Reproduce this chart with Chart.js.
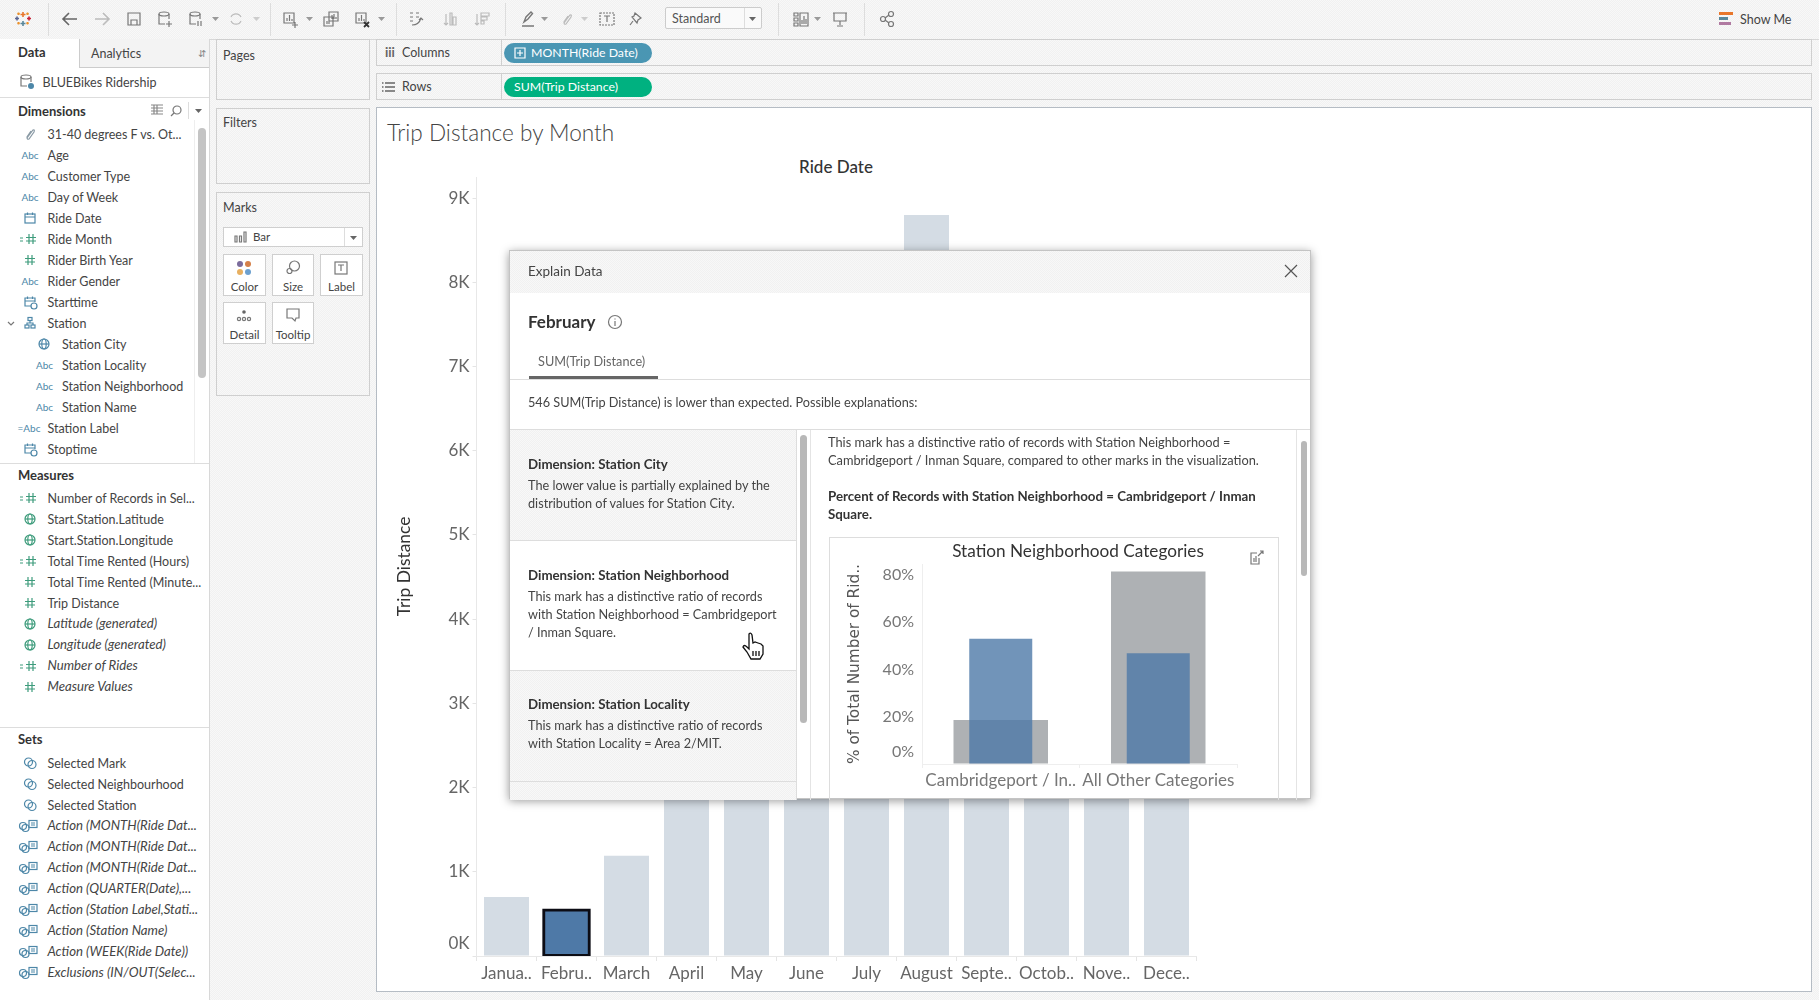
<!DOCTYPE html>
<html>
<head>
<meta charset="utf-8">
<title>Trip Distance by Month</title>
<script src="https://cdn.jsdelivr.net/npm/chart.js@4/dist/chart.umd.min.js"></script>
<style>
html, body { margin: 0; padding: 0; }
body { width: 1819px; height: 1000px; position: relative; overflow: hidden; font-family: Lato, sans-serif; color: #333;
  background: repeating-conic-gradient(#f1f1f1 0 25%, #f8f8f8 0 50%) 0 0 / 2px 2px; }
.box { position: absolute; box-sizing: border-box; }
.panel { background: #fff; border: 1px solid #cfcfcf; }
.light { background: repeating-conic-gradient(#f1f1f1 0 25%, #f8f8f8 0 50%) 0 0 / 2px 2px; }
.t { position: absolute; white-space: nowrap; transform: translateY(-50%); line-height: 1.2; font-size: 12.5px; color: #444; }
.b { font-weight: 700; color: #333; font-size: 13px; }
.i { font-style: italic; font-size: 13.2px; }
.c { transform: translate(-50%, -50%); }
.pill { position: absolute; left: 504px; width: 148px; height: 20px; border-radius: 10px; color: #fff; font-size: 12.3px; line-height: 20px; box-sizing: border-box; }
svg { position: absolute; overflow: visible; fill: none; stroke: #777; stroke-width: 1.2; }
canvas { position: absolute; }
</style>
</head>
<body>
<div id="chrome"></div>

<!-- main view -->
<div class="box panel" style="left:376px;top:107px;width:1436px;height:885px;border-color:#b5bcc4"></div>
<div class="t" style="left:387px;top:133px;font-size:22.6px;font-weight:300;color:#444">Trip Distance by Month</div>
<div class="t c b" style="left:836px;top:167px;font-size:17px;font-weight:500">Ride Date</div>
<canvas id="monthChart" width="830" height="840" style="left:380px;top:150px"></canvas>

<!-- explain data dialog -->
<div class="box" id="dialog" style="left:509px;top:250px;width:802px;height:549px;background:#fff;border:1px solid #c4c4c4;box-shadow:0 2px 9px rgba(0,0,0,.4)">
  <div class="box light" style="left:0;top:0;width:800px;height:42px"></div>
  <div class="box light" style="left:0;top:179px;width:286px;height:111px;border-bottom:1px solid #ddd"></div>
  <div class="box light" style="left:0;top:419px;width:286px;height:112px;border-top:1px solid #ddd;border-bottom:1px solid #ddd"></div>
  <div class="box light" style="left:0;top:531px;width:286px;height:18px"></div>
  <div class="box" style="left:19px;top:125px;width:129px;height:3px;background:#666"></div>
  <div class="box" style="left:0;top:128px;width:800px;height:1px;background:#ddd"></div>
  <div class="box" style="left:0;top:178px;width:800px;height:1px;background:#ddd"></div>
  <div class="box" style="left:286px;top:179px;width:1px;height:370px;background:#ddd"></div>
  <div class="box" style="left:300px;top:179px;width:1px;height:370px;background:#e4e4e4"></div>
  <div class="box" style="left:786px;top:179px;width:1px;height:370px;background:#e4e4e4"></div>
  <div class="box" style="left:290px;top:184px;width:7px;height:288px;background:#b8b8b8;border-radius:4px"></div>
  <div class="box" style="left:791px;top:190px;width:6px;height:135px;background:#b8b8b8;border-radius:3px"></div>
  <div class="box" style="left:319px;top:286px;width:450px;height:263px;border:1px solid #ddd;border-bottom:0;overflow:hidden">
    <canvas id="neighborhoodChart" width="450" height="263" style="left:-1px;top:-1px"></canvas>
    <div class="t c" style="left:248px;top:13px;font-size:17.2px;color:#333">Station Neighborhood Categories</div>
  </div>
</div>
<div id="dialogText"></div>

<script>
// main chart
const months = ['Janua..', 'Febru..', 'March', 'April', 'May', 'June', 'July', 'August', 'Septe..', 'Octob..', 'Nove..', 'Dece..'];
const tripDistance = [700, 546, 1190, 2900, 4700, 6300, 7800, 8800, 8200, 6500, 4200, 2400]; // Apr-Jul, Sep-Dec sit behind the dialog, estimated
const distanceTicks = [0, 1000, 2000, 3000, 4000, 5000, 6000, 7000, 8000, 9000];
const selectedMonth = 'Febru..';

// small chart inside the dialog
const neighborhoods = ['Cambridgeport / In..', 'All Other Categories'];
const markShare = [53, 46.8];
const overallShare = [18.6, 81.4];
const shareTicks = [0, 20, 40, 60, 80];

// side panel fields: name, icon, nested, italic
const dimensions = [['31-40 degrees F vs. Ot...', 'clip'], ['Age', 'abc'], ['Customer Type', 'abc'], ['Day of Week', 'abc'], ['Ride Date', 'date'], ['Ride Month', 'calc'], ['Rider Birth Year', 'hash'], ['Rider Gender', 'abc'], ['Starttime', 'time'], ['Station', 'tree'], ['Station City', 'globeb', 1], ['Station Locality', 'abc', 1], ['Station Neighborhood', 'abc', 1], ['Station Name', 'abc', 1], ['Station Label', 'calcabc'], ['Stoptime', 'time']];
const measures = [['Number of Records in Sel...', 'calc'], ['Start.Station.Latitude', 'globe'], ['Start.Station.Longitude', 'globe'], ['Total Time Rented (Hours)', 'calc'], ['Total Time Rented (Minute...', 'hash'], ['Trip Distance', 'hash'], ['Latitude (generated)', 'globe', 0, 1], ['Longitude (generated)', 'globe', 0, 1], ['Number of Rides', 'calc', 0, 1], ['Measure Values', 'hash', 0, 1]];
const sets = [['Selected Mark', 'set'], ['Selected Neighbourhood', 'set'], ['Selected Station', 'set'], ['Action (MONTH(Ride Dat...', 'action', 0, 1], ['Action (MONTH(Ride Dat...', 'action', 0, 1], ['Action (MONTH(Ride Dat...', 'action', 0, 1], ['Action (QUARTER(Date),...', 'action', 0, 1], ['Action (Station Label,Stati...', 'action', 0, 1], ['Action (Station Name)', 'action', 0, 1], ['Action (WEEK(Ride Date))', 'action', 0, 1], ['Exclusions (IN/OUT(Selec...', 'action', 0, 1]];

const chrome = document.getElementById('chrome');
let html = '';
const text = (x, y, s, cls = '', style = '') => `<div class="t ${cls}" style="left:${x}px;top:${y}px;${style}">${s}</div>`;
const rect = (x, y, w, h, style) => `<div class="box" style="left:${x}px;top:${y}px;width:${w}px;height:${h}px;${style}"></div>`;
const svg = (x, y, inner, style = '') => `<svg width="16" height="16" viewBox="0 0 16 16" style="left:${x - 8}px;top:${y - 8}px;${style}">${inner}</svg>`;
const arrowDown = (x, y, col = '#999') => `<svg width="8" height="5" style="left:${x - 4}px;top:${y - 2}px;stroke:none"><path d="M0 0H7L3.5 4Z" fill="${col}"/></svg>`;

const fieldIcons = {
    abc: (x, y) => text(x - 8, y, 'Abc', '', 'font-size:10px;color:#4d87a8'),
    hash: (x, y) => svg(x, y, '<path d="M6 3V13M10 3V13M3 6.5H13M3 10H13"/>', 'stroke:#3e9c7c'),
    calc: (x, y) => svg(x, y, '<path d="M7 3V13M11 3V13M4 6.5H14M4 10H14M-2 7H1M-2 10H1"/>', 'stroke:#3e9c7c'),
    calcabc: (x, y) => text(x - 12, y, '=Abc', '', 'font-size:10px;color:#4d87a8'),
    date: (x, y) => svg(x, y, '<rect x="3" y="4" width="10" height="9"/><path d="M3 7H13M5.5 2.5V5M10.5 2.5V5"/>', 'stroke:#4d87a8'),
    time: (x, y) => svg(x, y, '<path d="M9 12H3V4H13V8M3 7H13M5.5 2.5V5M10.5 2.5V5"/><circle cx="12" cy="12" r="3"/>', 'stroke:#4d87a8'),
    tree: (x, y) => svg(x, y, '<rect x="6" y="2.5" width="4" height="3"/><rect x="3" y="10" width="4" height="3"/><rect x="9" y="10" width="4" height="3"/><path d="M8 5.5V8H5V10M8 8H11V10"/>', 'stroke:#4d87a8'),
    globe: (x, y) => svg(x, y, '<circle cx="8" cy="8" r="5"/><ellipse cx="8" cy="8" rx="2.2" ry="5"/><path d="M3 8H13"/>', 'stroke:#3e9c7c'),
    globeb: (x, y) => svg(x, y, '<circle cx="8" cy="8" r="5"/><ellipse cx="8" cy="8" rx="2.2" ry="5"/><path d="M3 8H13"/>', 'stroke:#4d87a8'),
    clip: (x, y) => svg(x, y, '<path d="M5 12L11 4Q13 3 12 6L7 13Q5 14 5 11L9 5"/>', 'stroke:#8a9aa5'),
    set: (x, y) => svg(x, y, '<circle cx="6.5" cy="7" r="4"/><circle cx="10" cy="9.5" r="4"/>', 'stroke:#4d87a8'),
    action: (x, y) => svg(x, y, '<circle cx="1" cy="8" r="3.5"/><circle cx="3.5" cy="10" r="3.5"/><rect x="7" y="2.5" width="8" height="7"/><path d="M9 5H13M9 7H13"/>', 'stroke:#4d87a8')
};

function fieldList(items, y0) {
    items.forEach(([name, icon, nested, italic], i) => {
        const y = y0 + i * 21;
        const x = nested ? 62 : 47.5;
        html += fieldIcons[icon](x - 18, y);
        html += text(x, y, name, italic ? 'i' : '');
    });
}

// toolbar
html += rect(0, 39, 1819, 1, 'background:#d8d8d8');
[48, 270, 396, 505, 778, 864].forEach(x => { html += rect(x, 3, 1, 33, 'background:#ddd'); });
html += svg(23, 19, '<path d="M8 1V6M5.5 3.5H10.5" stroke="#e8762b"/><path d="M8 10V15M5.5 12.5H10.5" stroke="#59879b"/><path d="M2 5.5V9.5M0 7.5H4" stroke="#5b6591"/><path d="M14 5.5V9.5M12 7.5H16" stroke="#c72035"/><path d="M3.5 1.5V4M2.3 2.8H4.8M12.5 1.5V4M11.3 2.8H13.8M3.5 11V13.5M2.3 12.2H4.8M12.5 11V13.5M11.3 12.2H13.8" stroke="#eb912b"/>', 'stroke-width:1.6');
html += svg(69.5, 19, '<path d="M15 8H1M7 2L1 8L7 14"/>', 'stroke:#666;stroke-width:1.6');
html += svg(102, 19, '<path d="M1 8H15M9 2L15 8L9 14"/>', 'stroke:#bbb;stroke-width:1.6');
html += svg(134, 19, '<path d="M2 2H14V14H2ZM5 14V9H11V14"/>');
html += svg(165, 19, '<ellipse cx="7" cy="3" rx="5" ry="2"/><path d="M2 3V13H8M12 3V8M9 13H15M12 10V16" />');
html += svg(196, 19, '<ellipse cx="7" cy="3" rx="5" ry="2"/><path d="M2 3V13H8M12 3V8M10 10V15M13 10V15"/>');
html += arrowDown(216, 19) + svg(236, 19, '<path d="M3 6A5.5 5.5 0 0 1 13 6M13 10A5.5 5.5 0 0 1 3 10"/>', 'stroke:#bbb') + arrowDown(257, 19, '#ccc');
html += svg(290, 19, '<path d="M2 2H12V12H2ZM5 10V7M7.5 10V4M10 10V8M10 14H16M13 11V17"/>') + arrowDown(310, 19);
html += svg(331, 19, '<path d="M6 1H15V10H6ZM1 6H10V15H1ZM9 8V4M11 8V3M13 8V6M4 13V10M6 13V8"/>');
html += svg(362, 19, '<path d="M2 2H12V12H2ZM5 10V7M7.5 10V4M10 10V8"/><path d="M10 11L15 16M15 11L10 16" stroke="#333" stroke-width="1.8"/>') + arrowDown(382, 19);
html += svg(416, 19, '<path d="M2 2H5M8 2H11M2 6H5M8 6H11M2 10H5M4 14Q11 14 13 7M11 9L13 7L15 9"/>');
html += svg(451, 19, '<path d="M3 3V14M1 12L3 14L5 12M7 2H9V14H7ZM10 6H13V14H10Z"/>', 'stroke:#bbb');
html += svg(482, 19, '<path d="M3 3V14M1 12L3 14L5 12M7 2H15V5H7ZM7 6H13V9H7ZM7 10H10V13H7Z"/>', 'stroke:#bbb');
html += svg(528, 19, '<path d="M4 11L6 6L11 1L12.5 2.5L8 8ZM2 15H14" stroke="#777" stroke-width="1.4"/>') + arrowDown(545, 19);
html += svg(567, 19, '<path d="M5 12L11 4Q13 3 12 6L7 13Q5 14 5 11L9 5"/>', 'stroke:#bbb') + arrowDown(585, 19, '#ccc');
html += svg(607, 19, '<rect x="1" y="2" width="14" height="12" stroke-dasharray="2 1"/><path d="M5 5H11M8 5V11"/>');
html += svg(636, 19, '<path d="M7 2L13 7L10 9L9 12L4 6L6 5ZM5 10L2 14"/>');
html += rect(665, 7, 97, 22, 'border:1px solid #ccc;background:#fafafa;border-radius:2px');
html += rect(744, 8, 1, 20, 'background:#ddd') + text(672, 18, 'Standard', '', 'color:#555') + arrowDown(753, 19, '#666');
html += svg(801, 19, '<path d="M1 2H5V5H1ZM1 7H5V10H1ZM1 12H5V15H1ZM7 2H15V15H7ZM9 13V9M11 13V5M13 13V8"/>') + arrowDown(818, 19);
html += svg(840, 19, '<path d="M1 2H15M2 2V10H14V2M8 10V14M5 15H11"/>');
html += svg(887, 19, '<circle cx="4" cy="8" r="2.5"/><circle cx="12" cy="3" r="2.5"/><circle cx="12" cy="13" r="2.5"/><path d="M6 7L10 4M6 9L10 12"/>');
html += `<svg width="16" height="14" style="left:1719px;top:12px;stroke:none"><rect width="14" height="3" fill="#e8762b"/><rect y="5" width="9" height="3" fill="#59879b"/><rect y="10" width="12" height="3" fill="#b07aa1"/></svg>`;
html += text(1740, 18.5, 'Show Me', '', 'color:#444');

// data pane
html += rect(209, 39, 1, 961, 'background:#d8d8d8');
html += rect(0, 39, 209, 58, 'background:#fff') + rect(0, 97, 209, 903, 'background:#fff');
html += rect(79, 39, 130, 29, 'background:#f3f3f3;border-left:1px solid #ccc;border-bottom:1px solid #ccc');
html += rect(0, 97, 209, 1, 'background:#ddd');
html += text(18, 52.5, 'Data', 'b') + text(91, 52.5, 'Analytics') + text(198, 53, '&#8693;', '', 'font-size:10px;color:#888');
html += svg(27, 82, '<ellipse cx="7" cy="3" rx="5" ry="2"/><path d="M2 3V12H8M12 3V8"/><circle cx="12" cy="12" r="3" fill="#4d87a8" stroke="none"/>');
html += text(42.5, 81.5, 'BLUEBikes Ridership');
html += text(18, 111.5, 'Dimensions', 'b');
html += svg(157, 110, '<path d="M2 3H14M2 6H14M2 9H14M2 12H14M5 3V12M8 3V12"/>', 'stroke:#888') + svg(176, 111, '<circle cx="9" cy="7" r="4"/><path d="M6 10L3 13"/>') + arrowDown(199, 111, '#666');
html += rect(188, 102, 1, 17, 'background:#ddd');
fieldList(dimensions, 134);
html += svg(11, 323, '<path d="M5 7L8 10L11 7"/>');
html += rect(198, 128, 8, 250, 'background:#c4c4c4;border-radius:4px');
html += rect(194, 120, 1, 343, 'background:#eee');
html += rect(0, 463, 209, 1, 'background:#ddd');
html += text(18, 475.5, 'Measures', 'b');
fieldList(measures, 498);
html += rect(0, 727, 209, 1, 'background:#ddd');
html += text(18, 739.6, 'Sets', 'b');
fieldList(sets, 762.6);

// cards and shelves
const cardBorder = 'border:1px solid #cfcfcf;';
html += rect(216, 39, 154, 61, cardBorder) + text(223, 54.5, 'Pages');
html += rect(216, 108, 154, 76, cardBorder) + text(223, 122, 'Filters');
html += rect(216, 192, 154, 204, cardBorder) + text(223, 207, 'Marks');
html += rect(223, 227, 140, 20, cardBorder + 'background:#fff') + rect(344, 228, 1, 18, 'background:#ddd') + arrowDown(354, 238, '#666');
html += svg(241, 237, '<path d="M2 7H4V13H2ZM6.5 7H8.5V13H6.5ZM11 3H13V13H11Z"/>') + text(253, 237, 'Bar', '', 'font-size:11.5px');
const markCards = [['Color', 223, 254, 43], ['Size', 272, 254, 42], ['Label', 320, 254, 43], ['Detail', 223, 302, 43], ['Tooltip', 272, 302, 42]];
markCards.forEach(([label, x, y, w]) => {
    html += rect(x, y, w, 42, cardBorder + 'background:#fff');
    html += `<div class="t c" style="left:${x + w / 2}px;top:${y + 33}px;font-size:11.5px">${label}</div>`;
});
html += `<svg width="16" height="16" style="left:236px;top:260px;stroke:none"><circle cx="4" cy="4" r="3" fill="#7b6c9c"/><circle cx="12" cy="4" r="3" fill="#d5804a"/><circle cx="4" cy="12" r="3" fill="#e8b060"/><circle cx="12" cy="12" r="3" fill="#6ca0cf"/></svg>`;
html += svg(293, 268, '<circle cx="9.5" cy="6" r="5"/><circle cx="4.5" cy="11" r="2.5"/>');
html += svg(341, 268, '<rect x="2" y="2" width="12" height="12"/><path d="M5 5H11M8 5V11"/>');
html += svg(244, 315, '<circle cx="8" cy="5" r="1.8" fill="#666" stroke="none"/><circle cx="3" cy="12" r="1.6"/><circle cx="8" cy="12" r="1.6"/><circle cx="13" cy="12" r="1.6"/>');
html += svg(293, 315, '<path d="M2 2H14V11H11L10 14L7 11H2Z"/>');
[[39, 'Columns'], [73, 'Rows']].forEach(([y, label]) => {
    html += rect(376, y, 1436, 27, cardBorder) + rect(501, y, 1, 27, 'background:#cfcfcf');
    html += text(402, y + 13, label);
});
html += text(385, 53, 'iii', '', 'font-size:13px;font-weight:700;color:#666');
html += svg(389, 87, '<path d="M4 4H14M4 8H14M4 12H14M1 4H2.5M1 8H2.5M1 12H2.5"/>', 'stroke:#666;stroke-width:1.4');
html += `<div class="pill" style="top:43px;background:#4a96b3;padding-left:27px">MONTH(Ride Date)</div>`;
html += svg(520, 53, '<path d="M3 3H13V13H3ZM8 5V11M5 8H11"/>', 'stroke:#fff');
html += `<div class="pill" style="top:77px;background:#00b180;padding-left:10px">SUM(Trip Distance)</div>`;
chrome.innerHTML = html;

// dialog text
const bold13 = 'font-size:13.3px';
const body13 = 'font-size:12.7px';
const dialogLines = [
    [528, 271, 'Explain Data', '', 'font-size:13.5px'],
    [528, 322, 'February', 'b', 'font-size:17px'],
    [538, 361.5, 'SUM(Trip Distance)', '', 'font-size:12.7px;color:#666'],
    [528, 403, '546 SUM(Trip Distance) is lower than expected. Possible explanations:', '', body13],
    [528, 464.7, 'Dimension: Station City', 'b', bold13],
    [528, 486, 'The lower value is partially explained by the', '', body13],
    [528, 504, 'distribution of values for Station City.', '', body13],
    [528, 575.7, 'Dimension: Station Neighborhood', 'b', bold13],
    [528, 597, 'This mark has a distinctive ratio of records', '', body13],
    [528, 615, 'with Station Neighborhood = Cambridgeport', '', body13],
    [528, 633, '/ Inman Square.', '', body13],
    [528, 704.7, 'Dimension: Station Locality', 'b', bold13],
    [528, 726, 'This mark has a distinctive ratio of records', '', body13],
    [528, 744, 'with Station Locality = Area 2/MIT.', '', body13],
    [828, 442.7, 'This mark has a distinctive ratio of records with Station Neighborhood =', '', 'font-size:12.8px'],
    [828, 460.7, 'Cambridgeport / Inman Square, compared to other marks in the visualization.', '', 'font-size:12.8px'],
    [828, 496.7, 'Percent of Records with Station Neighborhood = Cambridgeport / Inman', 'b', bold13],
    [828, 514.7, 'Square.', 'b', bold13]
];
let dialogHtml = dialogLines.map(([x, y, s, cls, style]) => text(x, y, s, cls, style)).join('');
dialogHtml += svg(1291, 271, '<path d="M2 2L14 14M14 2L2 14"/>', 'stroke:#555');
dialogHtml += svg(614.5, 322, '<circle cx="8" cy="8" r="6.5"/><path d="M8 7V12M8 4.5V5.5"/>');
dialogHtml += svg(1257, 557, '<path d="M8 4H2V15H10V9M9 7L14 2M11 2H14V5M5 13V9M7 13V7"/>');
dialogHtml += `<svg width="24" height="28" viewBox="0 0 24 28" style="left:742px;top:632px;stroke:#111;stroke-width:1.3"><path d="M7 2Q9 0 10 3L11 11L13 10L16 11L19 12L21 14L21 22L18 27H9L5 20L1 15Q2 12 5 15L7 17Z" fill="#fff"/><path d="M11 19V24M14 19V24M17 19V24"/></svg>`;
document.getElementById('dialogText').innerHTML = dialogHtml;

// y tick at zero sits above the baseline like in Tableau
const tickFont = size => ctx => ctx.tick && ctx.tick.value === 0 ? { family: 'Lato', size, lineHeight: 1.5 } : { family: 'Lato', size };
const zeroShifted = (label, value) => value === 0 ? [label, ''] : label;

new Chart(document.getElementById('monthChart'), {
    type: 'bar',
    data: {
        labels: months,
        datasets: [
            {
                data: tripDistance.map((v, i) => months[i] === selectedMonth ? v : null),
                backgroundColor: '#4e79a7', borderColor: '#0c0c14', borderWidth: 3, borderSkipped: false, inflateAmount: 1.5,
                categoryPercentage: 1, barPercentage: 0.76, grouped: false
            },
            {
                data: tripDistance.map((v, i) => months[i] === selectedMonth ? null : v),
                backgroundColor: '#d4dce4',
                categoryPercentage: 1, barPercentage: 0.75, grouped: false
            }
        ]
    },
    options: {
        responsive: false, animation: false, devicePixelRatio: 1,
        layout: { padding: { top: 27, right: 13.5, left: 0, bottom: 0 } },
        plugins: { legend: { display: false }, tooltip: { enabled: false }, title: { display: false } },
        scales: {
            x: {
                afterFit: scale => { scale.height = 34; },
                grid: { drawOnChartArea: false, color: '#e4e4e4', tickLength: 5 },
                border: { color: '#e8e8e8' },
                ticks: { autoSkip: false, maxRotation: 0, padding: 2, color: '#666', font: { family: 'Lato', size: 17 } }
            },
            y: {
                min: 0, max: 9250,
                afterFit: scale => { scale.width = 96.5; },
                afterBuildTicks: scale => { scale.ticks = distanceTicks.map(value => ({ value })); },
                grid: { drawOnChartArea: false, color: '#e4e4e4', tickLength: 4 },
                border: { color: '#e8e8e8', dash: [2, 2] },
                title: { display: true, text: 'Trip Distance', color: '#333', font: { family: 'Lato', size: 17.4 }, padding: { top: 14, bottom: 0 } },
                ticks: {
                    autoSkip: false, padding: 3, color: '#666', font: tickFont(17),
                    callback: v => zeroShifted((v / 1000) + 'K', v)
                }
            }
        }
    }
});

new Chart(document.getElementById('neighborhoodChart'), {
    type: 'bar',
    data: {
        labels: neighborhoods,
        datasets: [
            { data: markShare, backgroundColor: 'rgba(78,121,167,.8)', order: 1, categoryPercentage: 1, barPercentage: 0.4, grouped: false },
            { data: overallShare, backgroundColor: '#aeb1b4', order: 2, categoryPercentage: 1, barPercentage: 0.6, grouped: false }
        ]
    },
    options: {
        responsive: false, animation: false, devicePixelRatio: 1,
        layout: { padding: { top: 27, right: 42, left: 0, bottom: 0 } },
        plugins: { legend: { display: false }, tooltip: { enabled: false } },
        scales: {
            x: {
                afterFit: scale => { scale.height = 36; },
                grid: { drawOnChartArea: false, color: '#eee', tickLength: 4 },
                border: { color: '#eee' },
                ticks: { autoSkip: false, maxRotation: 0, padding: 2, color: '#777', font: { family: 'Lato', size: 17 } }
            },
            y: {
                min: 0, max: 84.6,
                afterFit: scale => { scale.width = 93; },
                afterBuildTicks: scale => { scale.ticks = shareTicks.map(value => ({ value })); },
                grid: { drawOnChartArea: false, tickLength: 0 },
                border: { color: '#eee' },
                title: { display: true, text: '% of Total Number of Rid..', color: '#555', font: { family: 'DejaVu Sans', size: 15.3 }, padding: { top: 17, bottom: 0 } },
                ticks: {
                    autoSkip: false, padding: 8, color: '#777', font: tickFont(16),
                    callback: v => zeroShifted(v + '%', v)
                }
            }
        }
    }
});
</script>
</body>
</html>
